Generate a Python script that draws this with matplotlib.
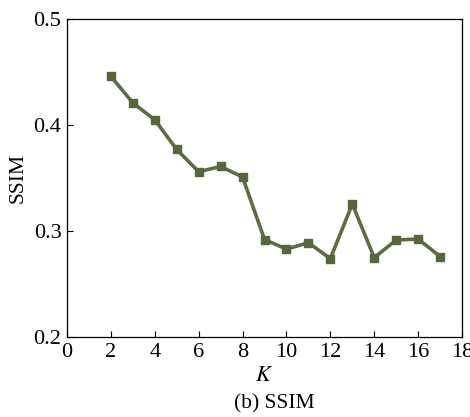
import numpy as np
import matplotlib
matplotlib.use('Agg')
import matplotlib.pyplot as plt

# Data
k = [2, 3, 4, 5, 6, 7, 8, 9, 10, 11, 12, 13, 14, 15, 16, 17]
ssim = [0.446, 0.421, 0.405, 0.377, 0.356, 0.361, 0.351, 0.292, 0.283, 0.289,
        0.274, 0.3255, 0.275, 0.2915, 0.2925, 0.276]
xticks = [0, 2, 4, 6, 8, 10, 12, 14, 16, 18]
yticks = [0.2, 0.3, 0.4, 0.5]

plt.rcParams['font.family'] = ['Liberation Serif', 'DejaVu Serif']
plt.rcParams['mathtext.fontset'] = 'stix'

fig = plt.figure(figsize=(4.7, 4.17), dpi=100)
ax = fig.add_axes([0.1426, 0.1918, 0.8404, 0.7622])

ax.plot(k, ssim, color='#5e6c45', lw=2.6, marker='s', ms=6,
        markerfacecolor='#56663d', markeredgecolor='#56663d')

ax.set_xlim(0, 18)
ax.set_ylim(0.2, 0.5)
ax.set_xticks(xticks)
ax.set_yticks(yticks)
ax.set_yticklabels(['%.1f' % v for v in yticks])
ax.tick_params(direction='in', labelsize=16, length=4, width=0.8,
               top=False, right=False, pad=4)
for s in ax.spines.values():
    s.set_linewidth(0.9)

ax.set_ylabel('SSIM', fontsize=15.5, labelpad=4)
ax.set_xlabel('$K$', fontsize=16, labelpad=4)
fig.text(0.583, 0.02, '(b) SSIM', ha='center', fontsize=15.5)

fig.savefig('out.png', dpi=100)
